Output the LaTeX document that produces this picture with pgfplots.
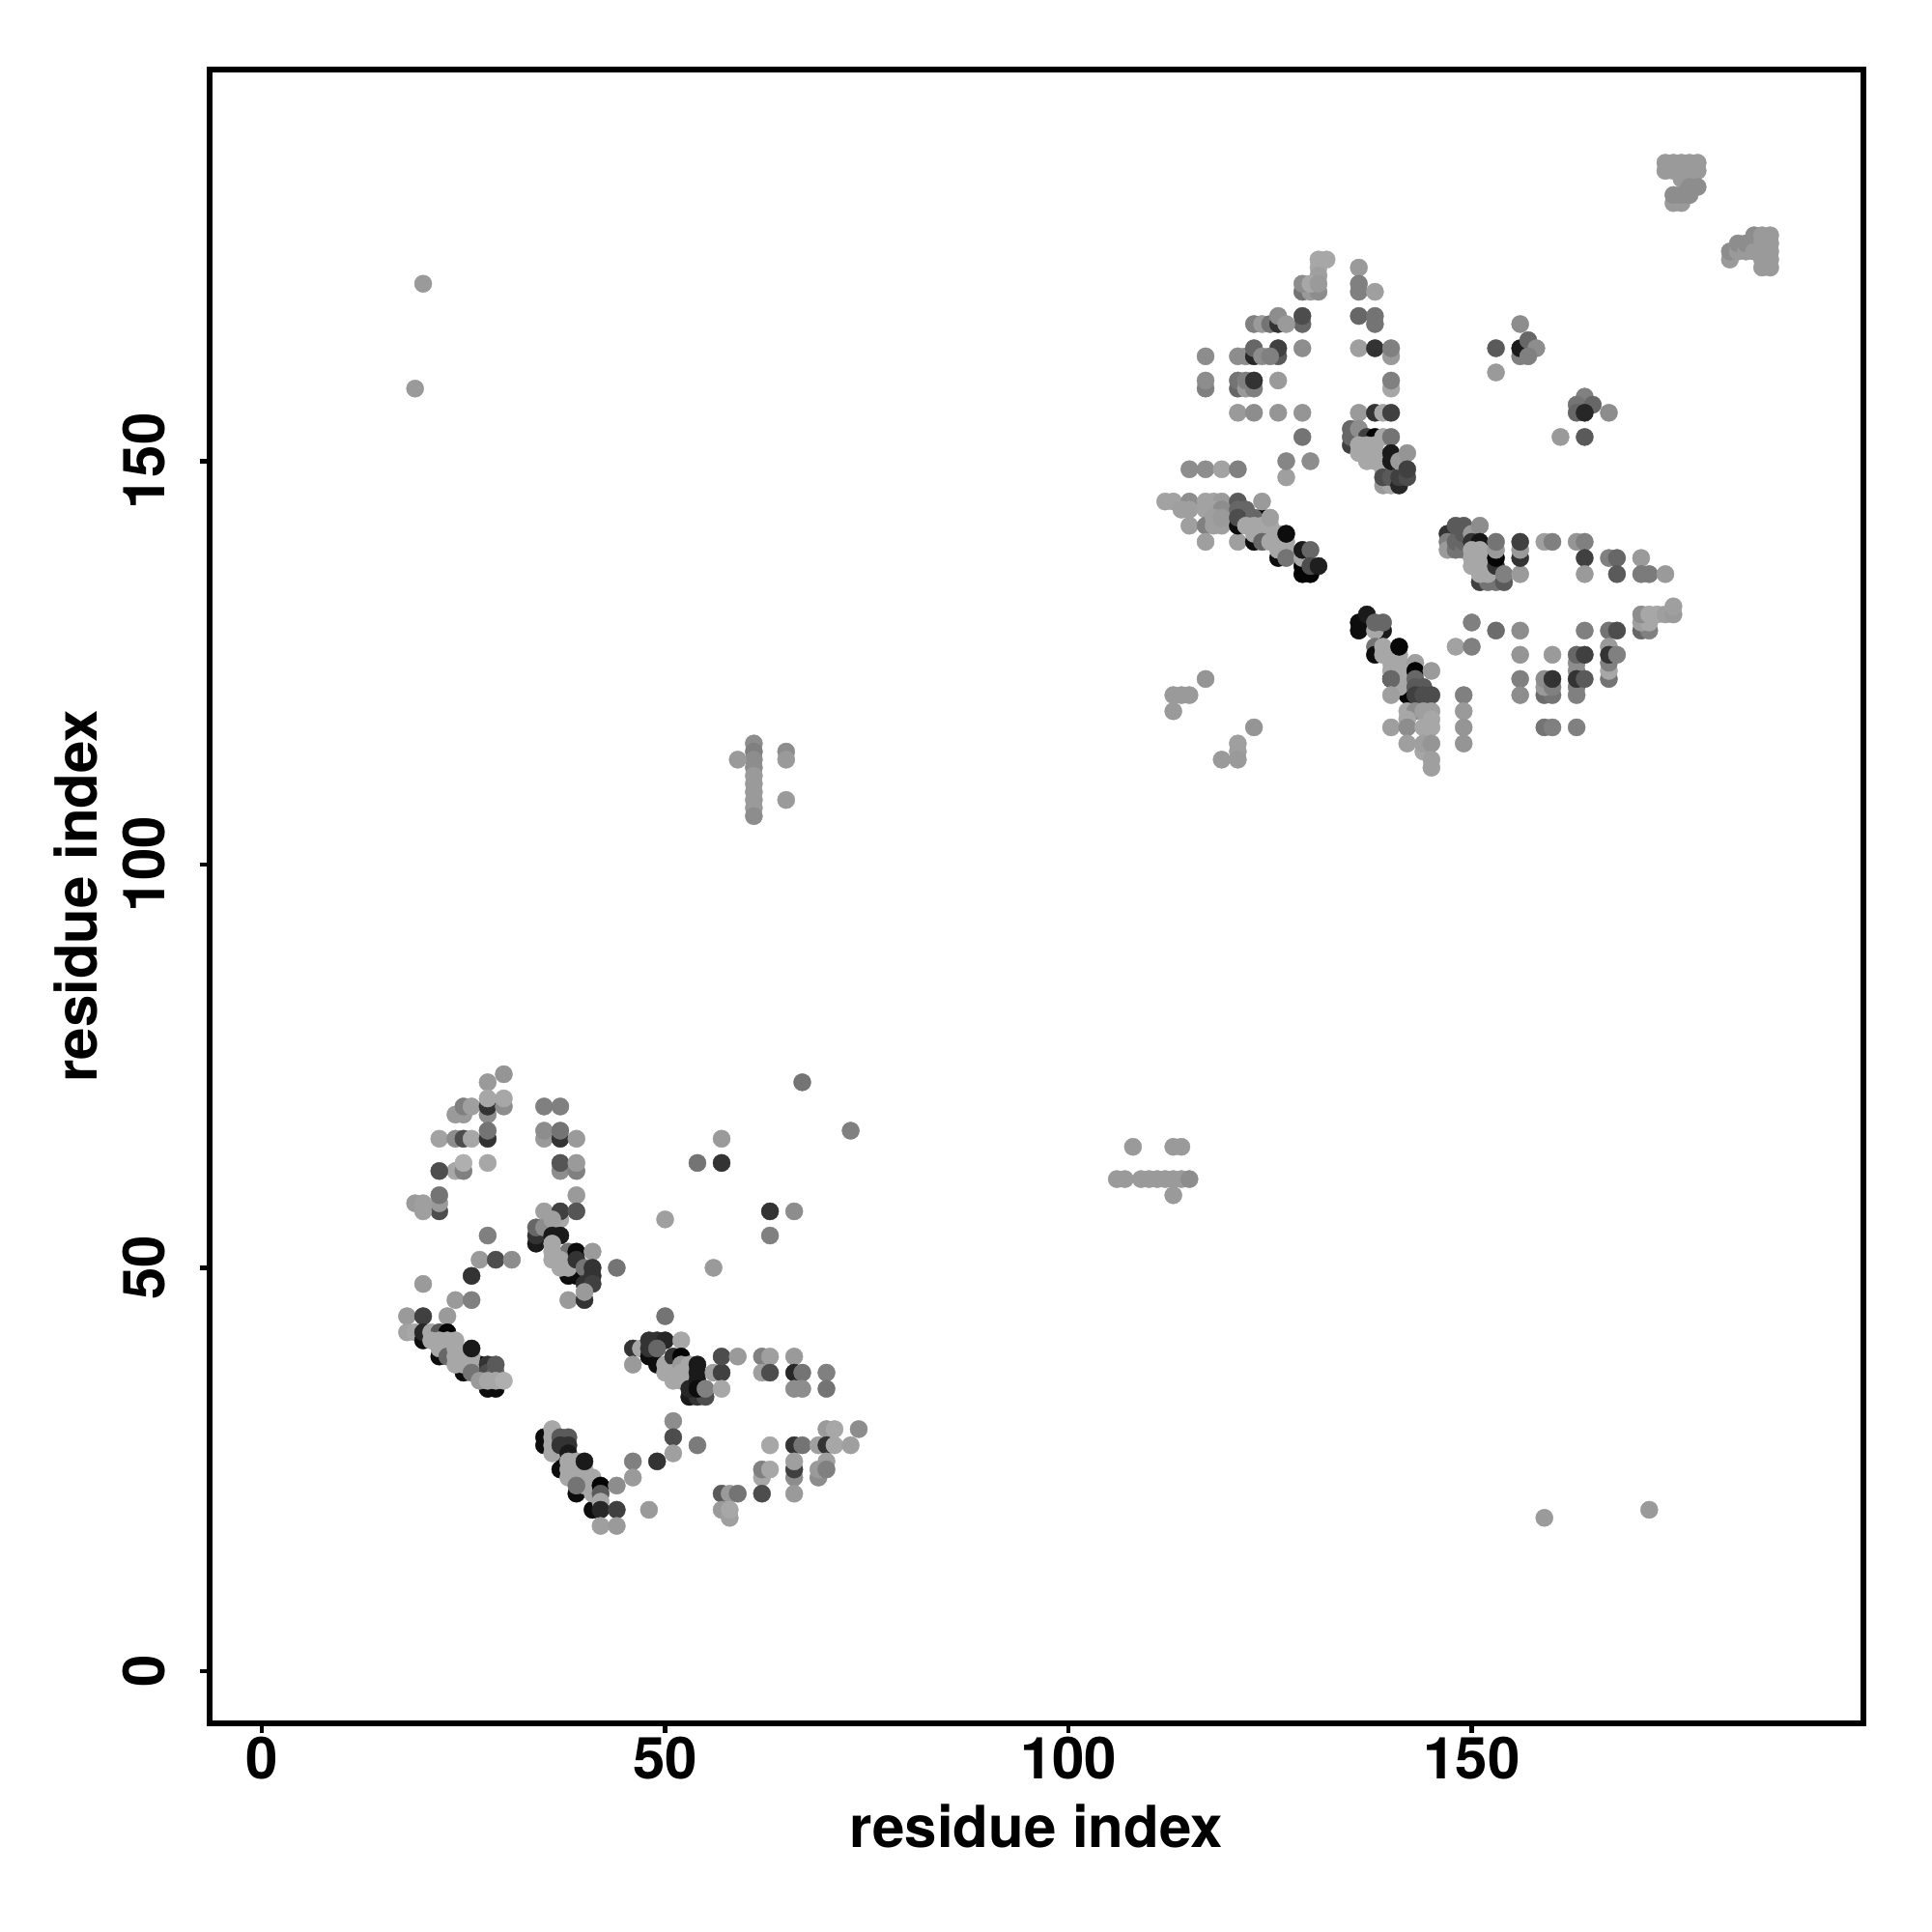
\documentclass[border=0pt]{standalone}
\usepackage{fontspec}
\setmainfont{TeX Gyre Heros}
\usepackage{pgfplots}
\usepackage{pgfplotstable}
\pgfplotsset{compat=1.18}
\pgfplotstableread{
x y g
20 172 .6
19 159 .6
61 115 .55
61 114 .5
61 113 .55
61 112 .55
61 111 .6
61 110 .6
61 109 .6
61 108 .6
61 107 .6
61 106 .55
59 113 .6
65 114 .55
65 113 .6
65 108 .6
108 65 .6
113 65 .6
114 65 .6
106 61 .6
107 61 .6
109 61 .6
110 61 .6
111 61 .6
112 61 .6
113 61 .6
114 61 .6
115 61 .55
113 59 .6
159 19 .6
172 20 .6
57 66 .6
54 63 .45
57 63 .2
63 57 .2
63 54 .5
66 57 .55
67 73 .45
73 67 .5
56 50 .6
50 56 .62
}\tIso
\pgfplotstableread{
x y g
30 74 .58
28 73 .6
24 69 .6
25 69 .6
25 70 .5
26 70 .62
28 69 .55
28 70 .2
28 71 .65
30 70 .55
30 71 .65
22 66 .63
24 66 .55
25 66 .3
26 66 .65
28 66 .2
28 67 .45
28 63 .65
24 62 .65
25 62 .5
25 63 .68
22 62 .3
22 57 .3
22 58 .6
22 59 .45
19 58 .6
20 58 .62
20 57 .62
28 54 .5
27 51 .6
29 51 .3
31 51 .55
26 49 .2
20 48 .6
24 46 .6
26 46 .5
18 44 .6
20 44 .25
23 44 .6
35 70 .5
37 70 .5
35 66 .6
35 67 .55
37 66 .2
37 67 .45
39 66 .6
37 62 .55
39 62 .5
37 63 .33
39 63 .6
39 59 .6
37 56 .65
35 57 .62
37 57 .25
39 57 .33
50 44 .45
44 50 .45
34 53 .1
34 54 .2
34 55 .4
35 55 .55
36 56 .62
36 54 .1
37 54 .1
39 49 .05
38 49 .05
38 52 .45
39 52 .05
41 52 .6
36 53 .65
36 52 .65
36 51 .65
37 51 .65
37 50 .65
38 50 .65
39 51 .2
40 50 .45
41 50 .2
41 49 .2
40 48 .2
41 48 .25
38 46 .6
40 46 .2
40 47 .6
}\tA
\pgfplotstableread{
x y g
18 42 .63
19 42 .65
20 41 .05
20 42 .15
22 39 .05
25 37 .05
27 38 .05
27 37 .05
28 35 .05
29 35 .05
21 42 .65
22 42 .35
23 42 .02
21 41 .65
22 41 .65
23 41 .65
22 40 .65
23 40 .65
23 39 .4
24 41 .65
24 40 .65
24 39 .65
25 39 .65
24 38 .65
25 38 .65
26 39 .65
26 38 .65
26 37 .45
26 40 .1
28 38 .2
28 37 .3
29 37 .4
29 38 .35
27 36 .6
28 36 .65
29 36 .65
30 36 .68
35 29 .05
35 28 .05
37 27 .1
37 25 .05
39 22 .05
41 20 .05
36 30 .65
36 29 .65
36 28 .65
36 27 .65
37 29 .35
38 29 .35
38 28 .2
37 28 .2
38 27 .1
38 26 .65
39 26 .65
38 25 .65
39 25 .65
38 24 .65
39 24 .65
40 25 .65
40 24 .65
40 23 .65
41 24 .65
41 23 .65
39 23 .45
41 22 .65
40 26 .1
42 23 .02
42 22 .35
42 21 .65
42 20 .15
44 23 .55
46 26 .5
46 24 .6
49 26 .2
44 20 .25
42 18 .62
44 18 .6
48 20 .6
51 31 .55
51 29 .3
51 27 .62
54 28 .48
}\tB
\pgfplotstableread{
x y g
46 40 .2
47 40 .65
46 38 .6
48 39 .05
49 38 .05
50 38 .65
51 38 .65
48 41 .2
49 41 .2
50 41 .15
52 41 .65
48 40 .2
49 40 .4
51 39 .2
52 39 .02
50 37 .65
51 37 .65
51 36 .65
52 38 .6
52 37 .65
52 36 .65
53 38 .65
53 37 .65
53 34 .1
54 34 .2
55 34 .3
53 35 .15
54 38 .1
54 37 .1
54 36 .1
54 35 .05
55 35 .5
56 37 .62
57 37 .25
57 39 .3
59 39 .6
57 35 .65
62 39 .5
63 39 .62
62 37 .62
63 37 .3
66 39 .6
66 37 .15
67 37 .45
66 35 .55
67 35 .55
70 37 .5
70 35 .45
70 30 .6
71 30 .65
74 30 .55
63 28 .65
66 28 .2
67 28 .45
69 28 .62
70 28 .2
71 28 .65
73 28 .62
70 26 .62
66 24 .55
66 25 .25
66 26 .62
66 22 .6
62 24 .65
62 25 .5
63 25 .65
69 24 .55
69 25 .6
70 25 .5
57 22 .35
58 22 .6
59 22 .45
62 22 .3
57 20 .6
58 19 .62
58 20 .65
}\tC
\pgfplotstableread{
x y g
131 175 .65
132 175 .65
131 174 .65
131 173 .62
129 171 .45
130 171 .6
131 171 .55
129 172 .55
130 172 .65
131 172 .6
136 174 .6
136 171 .5
136 172 .5
138 171 .62
129 167 .4
129 168 .3
123 167 .5
124 167 .6
125 167 .45
126 167 .2
126 168 .55
127 167 .6
136 168 .4
138 167 .45
138 168 .45
136 164 .62
138 164 .2
140 163 .6
140 164 .5
129 164 .55
126 163 .35
126 164 .25
121 163 .55
122 163 .55
123 163 .15
123 164 .4
124 163 .55
125 163 .5
117 163 .55
117 159 .5
117 160 .55
121 159 .4
121 160 .45
122 159 .6
123 159 .5
122 160 .5
123 160 .2
126 160 .6
140 159 .65
140 160 .5
121 156 .6
123 156 .55
126 156 .58
129 156 .58
136 156 .6
138 156 .2
139 156 .65
140 156 .25
129 153 .45
127 148 .62
127 150 .52
130 150 .55
115 149 .55
117 149 .55
119 149 .63
121 149 .5
135 152 .25
135 153 .4
135 154 .4
136 154 .55
137 153 .25
138 153 .02
139 153 .65
140 153 .45
139 147 .6
140 147 .65
136 152 .65
136 151 .65
137 152 .65
137 151 .65
137 150 .65
138 152 .65
138 151 .65
138 150 .65
139 150 .65
139 149 .65
139 148 .3
140 148 .35
141 147 .15
141 148 .25
140 151 .1
140 150 .1
141 150 .6
142 151 .58
142 148 .3
142 149 .25
}\tD
\pgfplotstableread{
x y g
112 145 .63
113 145 .63
115 145 .55
114 144 .62
115 144 .62
117 145 .63
118 145 .63
119 145 .6
117 144 .63
118 144 .63
119 144 .55
115 142 .62
117 142 .5
118 142 .62
119 142 .62
118 143 .62
119 143 .6
117 140 .62
121 140 .62
121 142 .05
123 140 .05
126 138 .05
129 136 .02
130 136 .02
129 137 .02
124 143 .02
122 143 .1
121 145 .35
121 144 .4
122 144 .4
121 143 .3
123 143 .4
124 145 .6
122 142 .65
123 142 .65
124 142 .65
123 141 .65
124 141 .65
125 141 .65
125 142 .65
125 143 .62
124 140 .4
125 140 .65
126 141 .65
126 140 .65
126 139 .65
127 140 .65
127 139 .65
127 141 .05
127 138 .45
129 138 .65
129 139 .1
130 139 .4
130 137 .3
131 137 .12
}\tE
\pgfplotstableread{
x y g
136 130 .05
136 129 .05
137 131 .1
139 129 .1
138 129 .65
138 130 .4
139 130 .4
138 127 .45
138 126 .05
140 123 .03
142 121 .02
139 127 .65
139 126 .65
140 126 .65
140 125 .65
140 124 .65
141 126 .65
141 125 .65
141 124 .65
141 123 .65
141 122 .65
141 127 .03
140 123 .4
143 125 .62
143 124 .02
145 124 .6
143 123 .4
143 122 .35
144 122 .35
140 121 .62
143 121 .25
144 121 .3
145 121 .3
142 119 .65
143 119 .55
144 119 .62
145 119 .62
142 118 .65
145 118 .65
140 117 .62
142 117 .55
144 117 .65
145 117 .65
142 115 .62
144 114 .65
144 115 .62
145 115 .58
145 113 .62
145 112 .62
149 121 .5
149 119 .6
149 117 .58
149 115 .58
150 130 .5
153 129 .42
156 129 .55
148 127 .63
150 127 .5
156 126 .58
160 126 .6
163 124 .55
163 125 .55
163 126 .4
164 126 .25
164 129 .5
167 129 .45
168 129 .3
167 123 .45
167 124 .65
167 125 .5
167 127 .6
167 126 .2
168 126 .5
156 123 .5
156 121 .55
159 121 .42
160 121 .45
159 122 .6
159 123 .55
160 122 .5
160 123 .2
163 121 .5
163 122 .5
163 123 .2
164 123 .35
159 117 .45
160 117 .5
163 117 .5
113 119 .6
113 121 .6
114 121 .6
115 121 .6
117 123 .58
123 117 .58
121 115 .62
121 114 .62
121 113 .6
119 113 .6
}\tF
\pgfplotstableread{
x y g
147 141 .2
147 140 .5
147 139 .6
148 139 .45
148 140 .4
148 142 .35
149 142 .35
149 139 .45
149 140 .4
149 141 .35
150 141 .6
151 142 .55
150 140 .2
151 140 .08
150 139 .65
150 138 .65
150 137 .65
151 139 .65
151 138 .65
151 137 .65
152 138 .65
152 137 .65
151 135 .25
152 135 .45
153 135 .45
154 135 .35
151 136 .65
152 136 .65
153 137 .2
153 138 .02
153 139 .6
153 140 .45
154 136 .5
156 136 .6
156 138 .2
156 139 .6
156 140 .25
159 140 .62
160 140 .5
163 140 .58
164 140 .5
164 138 .25
164 136 .6
167 138 .5
168 138 .4
171 138 .6
168 136 .35
171 136 .48
172 136 .48
174 136 .6
171 129 .4
172 129 .5
171 130 .62
172 130 .65
171 131 .55
172 131 .65
173 131 .65
174 131 .62
175 131 .6
175 132 .62
174 186 .6
175 186 .6
176 186 .6
177 186 .6
178 186 .6
174 187 .6
175 187 .6
176 187 .6
177 187 .6
178 187 .6
176 185 .6
177 185 .6
175 182 .6
176 182 .6
175 183 .55
176 183 .55
177 183 .55
177 184 .55
178 184 .55
182 175 .6
182 176 .55
183 176 .6
183 177 .55
184 176 .6
184 177 .55
185 176 .6
185 178 .55
186 178 .6
187 178 .6
186 177 .6
187 177 .6
186 176 .6
187 176 .6
186 175 .6
187 175 .6
186 174 .6
187 174 .6
156 167 .55
153 164 .35
153 161 .6
156 163 .5
156 164 .1
157 165 .4
158 164 .55
157 163 .5
161 153 .6
164 153 .35
164 158 .5
163 157 .45
165 157 .4
163 156 .4
164 156 .15
167 156 .55
}\tG
\pgfplotsset{pts/.style={scatter,only marks,mark=*,mark size=4.5pt,point meta=explicit,
  mark options={line width=0.2pt},
  scatter/use mapped color={draw=mapped color,fill=mapped color}}}
\begin{document}
\begin{tikzpicture}[x=1pt,y=1pt]
\useasboundingbox (0,0) rectangle (1000,1000);
\begin{axis}[
  at={(108.3pt,108.1pt)}, anchor=south west,
  scale only axis, width=856pt, height=856pt,
  xmin=-6.52, xmax=198.51, ymin=-6.45, ymax=198.58,
  axis line style={line width=3pt},
  xtick={0,50,100,150}, ytick={0,50,100,150},
  tick align=outside, major tick length=5pt,
  tick style={line width=2.2pt,black},
  xtick pos=bottom, ytick pos=left,
  /pgf/number format/assume math mode=true,
  tick label style={font=\fontsize{30}{30}\selectfont\bfseries},
  xticklabel style={yshift=1.6pt},
  yticklabel style={rotate=90,anchor=south,yshift=14pt},
  xlabel={residue index}, ylabel={residue index},
  label style={font=\fontsize{30}{30}\selectfont\bfseries},
  xlabel style={at={(axis description cs:0.5,0)},anchor=center,yshift=-53.4pt},
  ylabel style={at={(axis description cs:0,0.5)},anchor=center,yshift=69pt},
  colormap={bw}{gray(0cm)=(0); gray(1cm)=(1)},
  point meta min=0, point meta max=1,
]
\addplot[pts] table[meta=g] {\tIso};
\addplot[pts] table[meta=g] {\tA};
\addplot[pts] table[meta=g] {\tB};
\addplot[pts] table[meta=g] {\tC};
\addplot[pts] table[meta=g] {\tD};
\addplot[pts] table[meta=g] {\tE};
\addplot[pts] table[meta=g] {\tF};
\addplot[pts] table[meta=g] {\tG};
\end{axis}
\end{tikzpicture}
\end{document}
